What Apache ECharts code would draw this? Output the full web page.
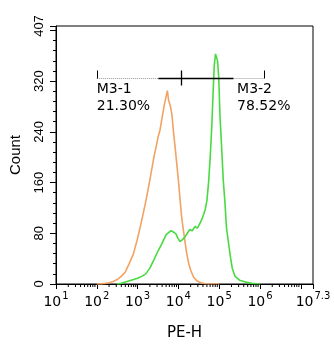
<!DOCTYPE html>
<html>
<head>
<meta charset="utf-8">
<script src="https://cdn.jsdelivr.net/npm/echarts@6/dist/echarts.min.js"></script>
<style>html,body{margin:0;padding:0;background:#fff}#c{width:334px;height:350px}</style>
</head>
<body>
<div id="c"></div>
<script>
// x values are log10 of PE-H intensity
const orangeExp = [2.0, 2.08, 2.2, 2.3, 2.4, 2.5, 2.6, 2.7, 2.8, 2.9, 3.0, 3.1, 3.2, 3.3, 3.4, 3.5, 3.55, 3.6, 3.65, 3.7, 3.73, 3.76, 3.8, 3.84, 3.88, 3.92, 3.96, 4.0, 4.04, 4.08, 4.12, 4.16, 4.2, 4.25, 4.3, 4.37, 4.45, 4.55, 4.7, 5.0];
const orangeCount = [0, 0, 1, 2, 4, 7, 12, 19, 33, 48, 72, 100, 130, 164, 200, 231, 243, 262, 281, 296, 305, 290, 282, 268, 240, 216, 190, 164, 134, 106, 86, 68, 50, 33, 22, 11, 5, 2, 0, 0];
const greenExp = [2.5, 2.6, 2.7, 2.8, 2.9, 3.0, 3.1, 3.2, 3.3, 3.4, 3.5, 3.6, 3.7, 3.76, 3.82, 3.88, 3.94, 3.99, 4.04, 4.1, 4.16, 4.22, 4.28, 4.34, 4.41, 4.46, 4.5, 4.57, 4.62, 4.66, 4.7, 4.74, 4.78, 4.82, 4.85, 4.88, 4.91, 4.93, 4.96, 4.99, 5.02, 5.06, 5.1, 5.14, 5.18, 5.22, 5.27, 5.32, 5.39, 5.5, 5.65, 5.8, 6.0];
const greenCount = [0, 1, 3, 5, 7, 9, 12, 16, 25, 38, 52, 64, 78, 81, 84, 82, 79, 72, 67, 70, 74, 80, 86, 84, 91, 88, 92, 101, 110, 118, 132, 160, 200, 250, 300, 345, 363, 366, 352, 325, 265, 216, 164, 130, 88, 69, 45, 25, 12, 6, 3, 1, 0];
const yTicks = [0, 80, 160, 240, 320, 407];
const xTickExps = [1, 2, 3, 4, 5, 6, 7, 7.3];
const minorMultipliers = [2, 3, 4, 5, 6, 7, 8, 9];
const gateEdges = [2.0, 4.06, 6.1];
const gateSolid = [3.51, 5.35];
const gateLevel = 325;
const gateNames = ['M3-1', 'M3-2'];
const gatePercents = ['21.30%', '78.52%'];

const minorExps = [];
for (let d = 1; d < 7.3; d++) {
  minorMultipliers.forEach(m => { const e = d + Math.log10(m); if (e < 7.3) minorExps.push([e, 0]); });
}

const chart = echarts.init(document.getElementById('c'), null, {renderer: 'canvas'});
const HF = 'DejaVu Sans';
const VF = 'Liberation Sans';

chart.setOption({
  animation: false,
  backgroundColor: '#fff',
  grid: {left: 56, right: 21, top: 26, bottom: 66, show: true, borderColor: '#000', borderWidth: 1, backgroundColor: 'transparent'},
  xAxis: {
    type: 'value', min: xTickExps[0], max: xTickExps[xTickExps.length - 1], interval: 1,
    name: 'PE-H', nameLocation: 'middle', nameGap: 42,
    nameTextStyle: {fontFamily: HF, fontSize: 15, color: '#000'},
    axisLine: {lineStyle: {color: '#000', width: 1}},
    axisTick: {show: true, length: 5, inside: false, lineStyle: {color: '#000'}},
    splitLine: {show: false},
    axisLabel: {
      margin: 9, showMaxLabel: true, showMinLabel: true, color: '#000',
      formatter: function (v) {
        const r = Math.round(v * 10) / 10;
        if (xTickExps.indexOf(r) < 0 || r === 7) return '';
        return '{b|10}{sup|' + r + '}';
      },
      rich: {
        b: {fontFamily: HF, fontSize: 14, lineHeight: 16, verticalAlign: 'bottom', color: '#000'},
        sup: {fontFamily: HF, fontSize: 10, lineHeight: 10, verticalAlign: 'bottom', padding: [0, 0, 8, 1], color: '#000'}
      }
    }
  },
  yAxis: {
    type: 'value', min: yTicks[0], max: yTicks[yTicks.length - 1], interval: 80,
    name: 'Count', nameLocation: 'middle', nameGap: 33, nameRotate: 90,
    nameTextStyle: {fontFamily: VF, fontSize: 15, color: '#000'},
    axisLine: {show: true, lineStyle: {color: '#000', width: 1}},
    axisTick: {show: true, length: 6, lineStyle: {color: '#000'}},
    minorTick: {show: true, splitNumber: 5, length: 3, lineStyle: {color: '#000'}},
    splitLine: {show: false},
    axisLabel: {rotate: 90, margin: 10, fontFamily: VF, fontSize: 13, color: '#000', showMaxLabel: true}
  },
  series: [
    {
      type: 'line', data: orangeExp.map((e, i) => [e, orangeCount[i]]),
      showSymbol: false, lineStyle: {color: '#F2A263', width: 1.6}, z: 3
    },
    {
      type: 'line', data: greenExp.map((e, i) => [e, greenCount[i]]),
      showSymbol: false, lineStyle: {color: '#48DB40', width: 1.6}, z: 4
    },
    {
      type: 'custom', clip: false, data: minorExps, z: 5,
      renderItem: function (params, api) {
        const p = api.coord([api.value(0), 0]);
        return {type: 'line', shape: {x1: p[0], y1: p[1], x2: p[0], y2: p[1] + 3}, style: {stroke: '#000', lineWidth: 1}};
      }
    },
    {
      type: 'custom', clip: false, data: [[gateEdges[0], gateLevel]], z: 6,
      renderItem: function (params, api) {
        const a = api.coord([gateEdges[0], gateLevel]);
        const m = api.coord([gateEdges[1], gateLevel]);
        const b = api.coord([gateEdges[2], gateLevel]);
        const s1 = api.coord([gateSolid[0], gateLevel]);
        const s2 = api.coord([gateSolid[1], gateLevel]);
        const y = Math.round(a[1]) + 0.5;
        const ch = [];
        ch.push({type: 'line', shape: {x1: a[0], y1: y, x2: s1[0], y2: y}, style: {stroke: '#999', lineWidth: 1, lineDash: [1, 1]}});
        ch.push({type: 'line', shape: {x1: s2[0], y1: y, x2: b[0], y2: y}, style: {stroke: '#999', lineWidth: 1, lineDash: [1, 1]}});
        ch.push({type: 'line', shape: {x1: s1[0], y1: y, x2: s2[0], y2: y}, style: {stroke: '#000', lineWidth: 1.5}});
        ch.push({type: 'line', shape: {x1: Math.round(a[0]) + 0.5, y1: y - 8, x2: Math.round(a[0]) + 0.5, y2: y}, style: {stroke: '#000', lineWidth: 1}});
        ch.push({type: 'line', shape: {x1: Math.round(b[0]) + 0.5, y1: y - 8, x2: Math.round(b[0]) + 0.5, y2: y}, style: {stroke: '#000', lineWidth: 1}});
        ch.push({type: 'line', shape: {x1: Math.round(m[0]) + 0.5, y1: y - 8, x2: Math.round(m[0]) + 0.5, y2: y + 7}, style: {stroke: '#000', lineWidth: 1.3}});
        ch.push({type: 'text', x: a[0], y: y + 2, style: {text: gateNames[0] + '\n' + gatePercents[0], fontFamily: HF, fontSize: 14, lineHeight: 17, fill: '#000', verticalAlign: 'top', align: 'left'}});
        ch.push({type: 'text', x: b[0] - 27, y: y + 2, style: {text: gateNames[1] + '\n' + gatePercents[1], fontFamily: HF, fontSize: 14, lineHeight: 17, fill: '#000', verticalAlign: 'top', align: 'left'}});
        return {type: 'group', children: ch};
      }
    }
  ]
});
</script>
</body>
</html>
